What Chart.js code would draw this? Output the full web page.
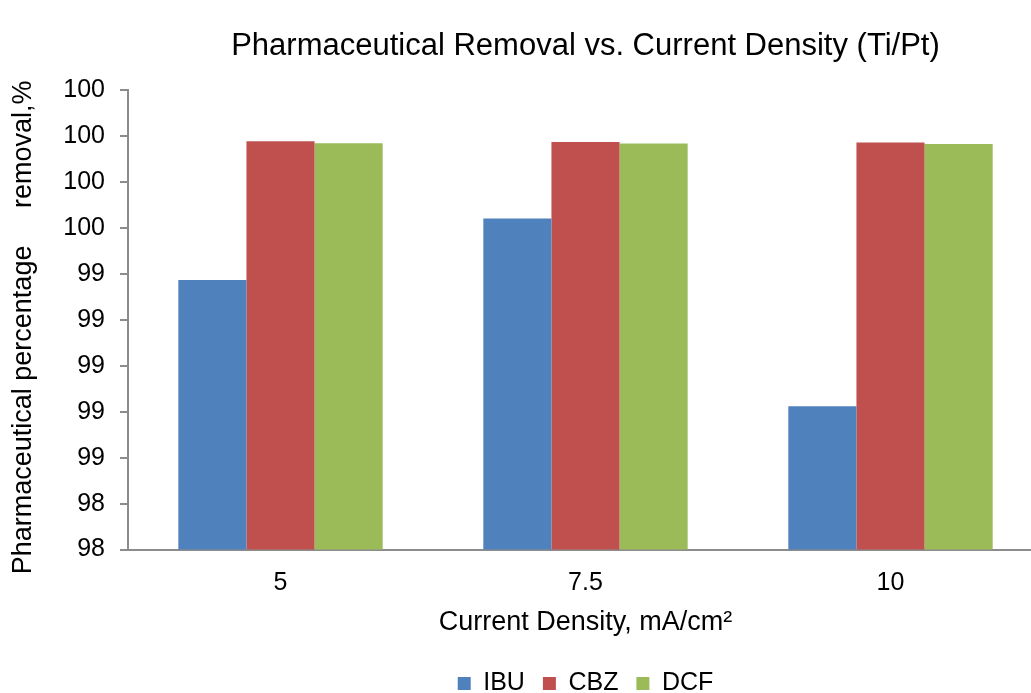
<!DOCTYPE html>
<html>
<head>
<meta charset="utf-8">
<script src="https://cdn.jsdelivr.net/npm/chart.js@4/dist/chart.umd.min.js"></script>
<style>
  html, body { margin: 0; padding: 0; background: #fff; overflow: hidden; }
  #wrap { width: 1031px; height: 693px; overflow: hidden; }
  canvas { display: block; }
</style>
</head>
<body>
<div id="wrap"><canvas id="c" width="1058" height="706"></canvas></div>
<script>
// Current density categories (mA/cm2)
const categories = ['5', '7.5', '10'];

// Removal percentages per pharmaceutical
const ibu = [99.374, 99.641, 98.824];
const cbz = [99.978, 99.974, 99.972];
const dcf = [99.969, 99.968, 99.966];

// Y axis tick labels (values shown rounded to whole numbers)
const yTickLabels = ['98', '98', '99', '99', '99', '99', '99', '100', '100', '100', '100'];

const FONT = "'Liberation Sans', Arial, sans-serif";
const AXIS = '#8c8c8c';

new Chart(document.getElementById('c'), {
  type: 'bar',
  data: {
    labels: categories,
    datasets: [
      { label: 'IBU', data: ibu, backgroundColor: '#4f81bd' },
      { label: 'CBZ', data: cbz, backgroundColor: '#c0504d' },
      { label: 'DCF', data: dcf, backgroundColor: '#9bbb59' }
    ]
  },
  options: {
    responsive: false,
    animation: false,
    devicePixelRatio: 1,
    layout: { padding: { left: 0, right: 15, top: 0, bottom: 0 } },
    datasets: {
      bar: { categoryPercentage: 0.67, barPercentage: 1.0, borderWidth: 0 }
    },
    scales: {
      x: {
        grid: { display: false, drawTicks: false },
        border: { display: true, color: AXIS, width: 2 },
        ticks: { color: '#000', padding: 19, font: { family: FONT, size: 25 } },
        title: {
          display: true,
          text: 'Current Density, mA/cm²',
          color: '#000',
          font: { family: FONT, size: 27 },
          padding: { top: -11, bottom: 14 }
        }
      },
      y: {
        min: 98.2,
        max: 100.2,
        grid: { drawOnChartArea: false, drawTicks: true, tickLength: 8, color: AXIS, lineWidth: 2 },
        border: { display: true, color: AXIS, width: 2 },
        ticks: {
          stepSize: 0.2,
          color: '#000',
          padding: 15,
          font: { family: FONT, size: 25 },
          callback: (v, i) => yTickLabels[i]
        },
        title: {
          display: true,
          text: 'Pharmaceutical percentage     removal,%  ',
          color: '#000',
          font: { family: FONT, size: 27 },
          padding: { top: 7, bottom: 0 }
        },
        afterFit: s => { s.width = 128; }
      }
    },
    plugins: {
      title: {
        display: true,
        fullSize: false,
        text: 'Pharmaceutical Removal vs. Current Density (Ti/Pt)',
        color: '#000',
        font: { family: FONT, size: 31, weight: 'normal' },
        padding: { top: 28, bottom: 25 }
      },
      legend: {
        position: 'bottom',
        fullSize: false,
        labels: {
          color: '#000',
          boxWidth: 13,
          boxHeight: 13,
          padding: 18,
          font: { family: FONT, size: 25 }
        }
      },
      tooltip: { enabled: false }
    }
  }
});
</script>
</body>
</html>
